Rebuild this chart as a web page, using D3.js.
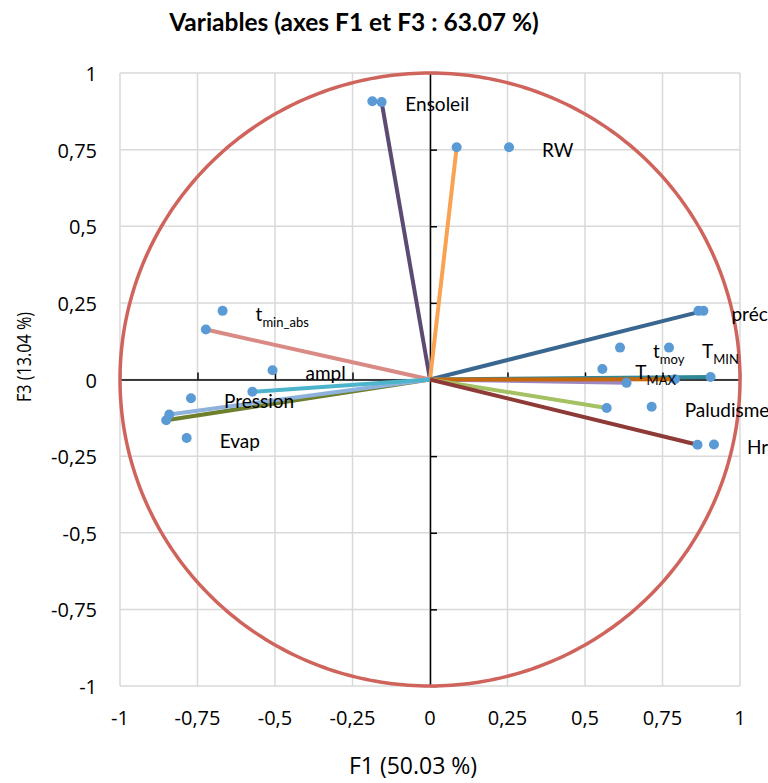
<!DOCTYPE html>
<html>
<head>
<meta charset="utf-8">
<script src="https://cdn.jsdelivr.net/npm/d3@7"></script>
<style>
  body { margin: 0; background: #fff; }
  svg { display: block; }
  text { fill: #000; }
</style>
</head>
<body>
<div id="chart"></div>
<script>
// correlation circle, variables on F1 / F3

var title = "Variables (axes F1 et F3 : 63.07 %)";
var xTitle = "F1 (50.03 %)";
var yTitle = "F3 (13.04 %)";

var tickValues = [-1, -0.75, -0.5, -0.25, 0, 0.25, 0.5, 0.75, 1];

var variables = ["Ensoleil", "RW", "préc", "t_min_abs", "ampl", "Pression", "Evap", "t_moy", "T_MIN", "T_MAX", "Paludisme", "Hr"];
// label main text / subscript
var labelMain = ["Ensoleil", "RW", "préc", "t", "ampl", "Pression", "Evap", "t", "T", "T", "Paludisme", "Hr"];
var labelSub  = ["", "", "", "min_abs", "", "", "", "moy", "MIN", "MAX", "", ""];

// vector ends (coordinates on F1, F3)
var f1 = [-0.156, 0.086, 0.882, -0.723, -0.573, -0.841, -0.851, 0.634, 0.905, 0.790, 0.570, 0.863];
var f3 = [0.905, 0.758, 0.224, 0.163, -0.040, -0.114, -0.133, -0.011, 0.008, 0.001, -0.093, -0.213];

// label points
var labF1 = [-0.186, 0.255, 0.866, -0.669, -0.508, -0.771, -0.785, 0.613, 0.771, 0.556, 0.715, 0.916];
var labF3 = [0.908, 0.758, 0.224, 0.224, 0.030, -0.061, -0.191, 0.104, 0.104, 0.034, -0.089, -0.212];

var colors = ["#5d4a73", "#f9a352", "#3a6790", "#d98a84", "#4db4cc", "#8fb2dc", "#6e7f2e",
              "#9d86c2", "#2f8799", "#c8680c", "#a4c263", "#8e3a36"];

// draw order of the vectors
var drawOrder = [0, 1, 2, 3, 6, 5, 4, 8, 7, 9, 10, 11];

var W = 768, H = 783;

var x = d3.scaleLinear().domain([-1, 1]).range([120, 740]);
var y = d3.scaleLinear().domain([-1, 1]).range([686, 73]);

var fmt = function(d) { return String(d).replace(".", ","); };

var svg = d3.select("#chart").append("svg")
    .attr("width", W)
    .attr("height", H)
    .style("font-family", "'Open Sans', sans-serif");

// gridlines
svg.append("g").selectAll("line.gx")
    .data(tickValues)
  .enter().append("line")
    .attr("x1", d => x(d)).attr("x2", d => x(d))
    .attr("y1", y(1)).attr("y2", y(-1))
    .attr("stroke", "#d9d9d9")
    .attr("stroke-width", 1.5);

svg.append("g").selectAll("line.gy")
    .data(tickValues)
  .enter().append("line")
    .attr("y1", d => y(d)).attr("y2", d => y(d))
    .attr("x1", x(-1)).attr("x2", x(1))
    .attr("stroke", "#d9d9d9")
    .attr("stroke-width", 1.5);

// axes through 0 (ticks inside), labels outside the plot
svg.append("g")
    .attr("transform", "translate(0," + y(0) + ")")
    .call(d3.axisTop(x).tickValues(tickValues).tickSize(7).tickSizeOuter(0).tickFormat(""))
    .call(g => g.selectAll("path,line").attr("stroke", "#000").attr("stroke-width", 1.5));

svg.append("g")
    .attr("transform", "translate(" + x(0) + ",0)")
    .call(d3.axisRight(y).tickValues(tickValues).tickSize(7).tickSizeOuter(0).tickFormat(""))
    .call(g => g.selectAll("path,line").attr("stroke", "#000").attr("stroke-width", 1.5));

// tick labels
svg.append("g").selectAll("text")
    .data(tickValues)
  .enter().append("text")
    .attr("x", d => x(d))
    .attr("y", 725)
    .attr("text-anchor", "middle")
    .attr("font-size", 20)
    .text(fmt);

svg.append("g").selectAll("text")
    .data(tickValues)
  .enter().append("text")
    .attr("x", 97)
    .attr("y", d => y(d) + 8)
    .attr("text-anchor", "end")
    .attr("font-size", 20)
    .text(fmt);

// circle of radius 1
var circle = d3.line()
    .x(a => x(Math.cos(a)))
    .y(a => y(Math.sin(a)));

svg.append("path")
    .datum(d3.range(0, 2 * Math.PI + 0.01, Math.PI / 180))
    .attr("d", circle)
    .attr("fill", "none")
    .attr("stroke", "#cf645d")
    .attr("stroke-width", 3.5);

// vectors
svg.append("g").selectAll("line")
    .data(drawOrder)
  .enter().append("line")
    .attr("x1", x(0)).attr("y1", y(0))
    .attr("x2", i => x(f1[i]))
    .attr("y2", i => y(f3[i]))
    .attr("stroke", i => colors[i])
    .attr("stroke-width", 4);

// points
var pts = variables.map((v, i) => [f1[i], f3[i]])
    .concat(variables.map((v, i) => [labF1[i], labF3[i]]));

svg.append("g").selectAll("circle")
    .data(pts)
  .enter().append("circle")
    .attr("cx", d => x(d[0]))
    .attr("cy", d => y(d[1]))
    .attr("r", 5)
    .attr("fill", "#5b9bd5");

// labels
var lab = svg.append("g").selectAll("text")
    .data(variables)
  .enter().append("text")
    .attr("x", (d, i) => x(labF1[i]) + 33)
    .attr("y", (d, i) => y(labF3[i]) + 10)
    .attr("font-family", "Lato, sans-serif")
    .attr("font-size", 19);

lab.append("tspan").text((d, i) => labelMain[i]);
lab.append("tspan")
    .attr("dy", 6)
    .attr("font-size", 13)
    .text((d, i) => labelSub[i]);

// titles
svg.append("text")
    .attr("x", 354)
    .attr("y", 31)
    .attr("text-anchor", "middle")
    .attr("font-family", "Lato, sans-serif")
    .attr("font-weight", "bold")
    .attr("font-size", 24.5)
    .text(title);

svg.append("text")
    .attr("x", 413)
    .attr("y", 774)
    .attr("text-anchor", "middle")
    .attr("font-size", 23)
    .text(xTitle);

svg.append("text")
    .attr("transform", "translate(31,357) rotate(-90)")
    .attr("text-anchor", "middle")
    .attr("font-size", 20)
    .attr("textLength", 90)
    .attr("lengthAdjust", "spacingAndGlyphs")
    .text(yTitle);
</script>
</body>
</html>
